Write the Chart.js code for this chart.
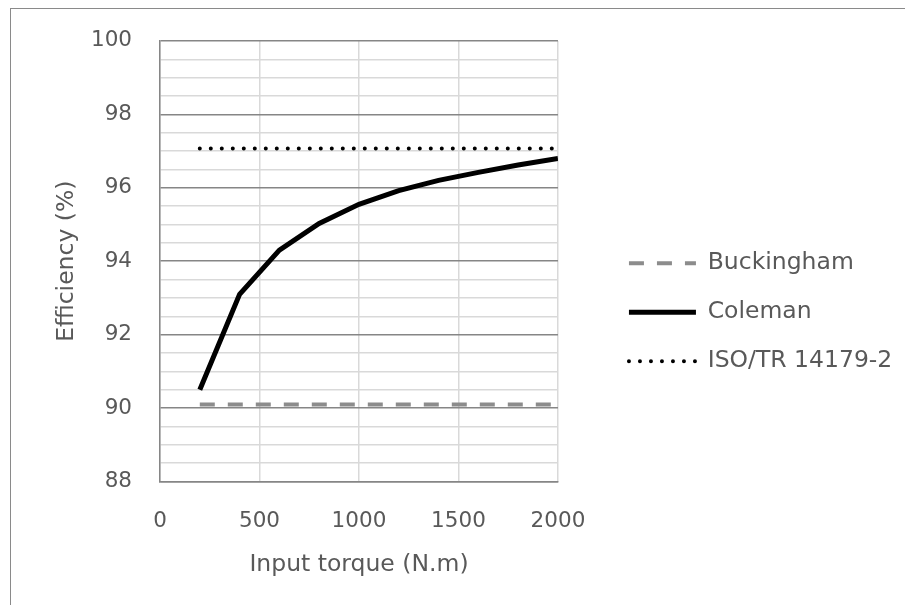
<!DOCTYPE html>
<html>
<head>
<meta charset="utf-8">
<script src="https://cdn.jsdelivr.net/npm/chart.js@4/dist/chart.umd.min.js"></script>
<style>
  html, body { margin: 0; padding: 0; background: #fff; }
  #frame { position: absolute; left: 10px; top: 8px; width: 900px; height: 600px;
    border-left: 1px solid #8a8a8a; border-top: 1px solid #8a8a8a; }
  #wrap { position: absolute; left: 0; top: 0; width: 905px; height: 605px; }
</style>
</head>
<body>
<div id="frame"></div>
<div id="wrap"><canvas id="chart" width="905" height="605"></canvas></div>
<script>
// values
const torque = [200, 400, 600, 800, 1000, 1200, 1400, 1600, 1800, 2000];
const coleman = [90.5, 93.1, 94.3, 95.03, 95.55, 95.92, 96.2, 96.42, 96.62, 96.8];
const buckingham = [90.1, 90.1, 90.1, 90.1, 90.1, 90.1, 90.1, 90.1, 90.1, 90.1];
const isoTr = [97.07, 97.07, 97.07, 97.07, 97.07, 97.07, 97.07, 97.07, 97.07, 97.07];
const seriesNames = ['Buckingham', 'Coleman', 'ISO/TR 14179-2'];

const textGray = '#595959';
const fontFamily = '"DejaVu Sans", sans-serif';
const tickFont = { family: fontFamily, size: 21.5 };
const titleFont = { family: fontFamily, size: 23.5 };

const toPoints = (ys) => ys.map((y, i) => ({ x: torque[i], y: y }));

// legend samples should follow each dataset's dash pattern
function legendLabels(chart) {
  const items = Chart.defaults.plugins.legend.labels.generateLabels(chart);
  items.forEach((item) => {
    const ds = chart.data.datasets[item.datasetIndex];
    item.lineDash = ds.borderDash || [];
    item.lineCap = ds.borderCapStyle || 'butt';
    item.lineWidth = ds.borderWidth;
  });
  return items;
}

const chartCfg = {
  type: 'line',
  data: {
    datasets: [{
      label: seriesNames[0],
      data: toPoints(buckingham),
      borderColor: '#8c8c8c',
      borderWidth: 4,
      borderDash: [15, 13],
      pointRadius: 0,
      pointStyle: 'line',
    }, {
      label: seriesNames[1],
      data: toPoints(coleman),
      borderColor: '#000',
      borderWidth: 5,
      pointRadius: 0,
      pointStyle: 'line',
    }, {
      label: seriesNames[2],
      data: toPoints(isoTr),
      borderColor: '#000',
      borderWidth: 4,
      borderDash: [0, 11],
      borderCapStyle: 'round',
      pointRadius: 0,
      pointStyle: 'line',
    }]
  },
  options: {
    responsive: false,
    animation: false,
    layout: { padding: { left: 10, top: 39.5, right: 2.7, bottom: 20 } },
    plugins: {
      tooltip: { enabled: false },
      legend: {
        position: 'right',
        maxWidth: 400,
        labels: {
          usePointStyle: true,
          pointStyleWidth: 67,
          boxHeight: 23.5,
          padding: 25.5,
          color: textGray,
          font: titleFont,
          generateLabels: legendLabels,
        }
      }
    },
    scales: {
      x: {
        type: 'linear',
        min: 0,
        max: 2000,
        ticks: { stepSize: 500, color: textGray, padding: 27, font: tickFont, callback: (v) => v },
        grid: { color: '#d9d9d9', lineWidth: 1.5, drawTicks: false },
        border: { color: '#868686', width: 1.5 },
        title: { display: true, text: 'Input torque (N.m)', color: textGray,
          font: titleFont, padding: { top: 0, bottom: 6 } },
        afterFit: (scale) => { scale.height = 103.5; }
      },
      y: {
        min: 88,
        max: 100,
        ticks: {
          stepSize: 0.5,
          maxTicksLimit: 40,
          autoSkip: false,
          color: textGray,
          padding: 28,
          font: tickFont,
          callback: (v) => (v % 2 === 0 ? v : '')
        },
        grid: {
          drawTicks: false,
          lineWidth: 1.5,
          color: (ctx) => (ctx.tick && ctx.tick.value % 2 === 0 ? '#868686' : '#d9d9d9')
        },
        border: { color: '#868686', width: 1.5 },
        title: { display: true, text: 'Efficiency (%)', color: textGray,
          font: titleFont, padding: { top: 43, bottom: 0 } },
        afterFit: (scale) => { scale.width = 150; }
      },
      gap: {
        position: 'right',
        display: true,
        ticks: { display: false },
        grid: { display: false, drawTicks: false },
        border: { display: false },
        afterFit: (scale) => { scale.width = 45.5; }
      }
    }
  }
};

new Chart(document.getElementById('chart'), chartCfg);
</script>
</body>
</html>
